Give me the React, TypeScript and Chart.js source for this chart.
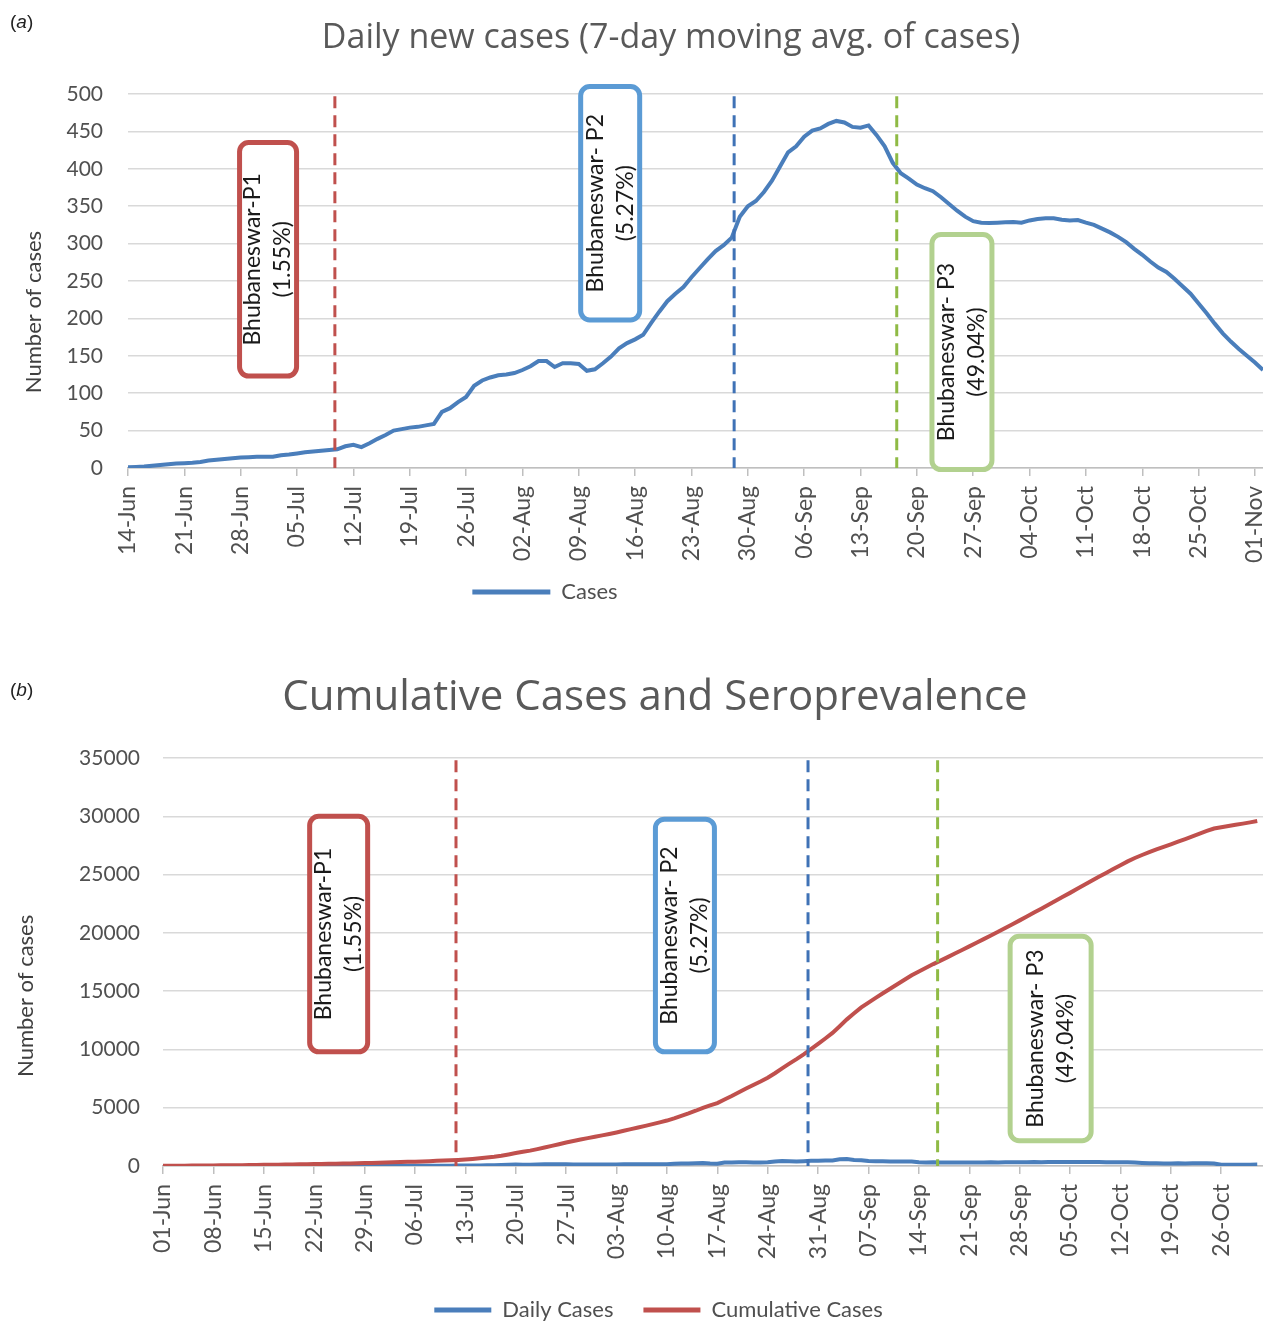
import React, { useEffect, useRef } from 'react';
import { Chart, registerables } from 'chart.js';

Chart.register(...registerables);

// ---------- DATA ----------
const TOP_START = Date.UTC(2020, 5, 14); // 14-Jun
const BOTTOM_START = Date.UTC(2020, 5, 1); // 01-Jun
const MONTHS = ['Jan', 'Feb', 'Mar', 'Apr', 'May', 'Jun', 'Jul', 'Aug', 'Sep', 'Oct', 'Nov', 'Dec'];

// 7-day moving average of daily new cases, one value per day from 14-Jun
const dailyAvgCases = [
  1, 1.5, 2, 3, 4, 5, 6, 6.5, 7, 8,
  10, 11, 12, 13, 14, 14.5, 15, 15, 15, 17,
  18, 19.5, 21, 22, 23, 24, 25, 29, 31, 28,
  33, 39, 44, 50, 52, 54, 55, 57, 59, 75,
  80, 88, 95, 110, 117, 121, 124, 125, 127, 131,
  136, 143, 143, 135, 140, 140, 139, 130, 132, 140,
  149, 160, 167, 172, 178, 194, 209, 223, 233, 242,
  255, 267, 279, 290, 298, 308, 336, 350, 357, 369,
  384, 403, 422, 430, 443, 451, 454, 460, 464, 462,
  456, 455, 458, 445, 430, 408, 394, 387, 379, 374,
  370, 362, 353, 344, 336, 330, 328, 327.5, 328, 328.5,
  329, 328, 331, 333, 334, 334, 332, 331, 331.5, 328,
  325, 320, 315, 309, 302, 293, 285, 276, 268, 262,
  253, 243, 233, 220, 207, 193, 180, 169, 159, 150,
  141, 131,
];

// cumulative cases, one value per day from 01-Jun
const cumulativeCases = [
  20, 23, 27, 31, 35, 40, 45, 50, 56, 62,
  68, 75, 82, 89, 97, 105, 113, 122, 131, 141,
  151, 162, 173, 185, 197, 210, 223, 237, 252, 267,
  283, 300, 318, 336, 355, 375, 396, 418, 441, 465,
  490, 525, 565, 610, 660, 720, 790, 880, 990, 1110,
  1220, 1320, 1450, 1590, 1730, 1870, 2020, 2150, 2270, 2390,
  2510, 2630, 2750, 2880, 3020, 3160, 3300, 3440, 3590, 3740,
  3900, 4090, 4300, 4510, 4740, 4990, 5200, 5400, 5700, 6000,
  6320, 6640, 6950, 7250, 7570, 7960, 8380, 8780, 9170, 9580,
  10020, 10470, 10940, 11420, 11990, 12580, 13100, 13600, 14020, 14420,
  14820, 15210, 15590, 15980, 16360, 16690, 17000, 17320, 17620, 17920,
  18230, 18530, 18840, 19150, 19460, 19780, 20090, 20420, 20740, 21070,
  21400, 21740, 22070, 22410, 22750, 23090, 23430, 23780, 24120, 24470,
  24810, 25140, 25470, 25800, 26130, 26420, 26680, 26920, 27160, 27380,
  27600, 27830, 28050, 28280, 28510, 28740, 28950, 29060, 29170, 29270,
  29370, 29480, 29600,
];

// daily cases, one value per day from 01-Jun
const dailyCases = [
  3, 4, 4, 4, 5, 5, 5, 6, 6, 6,
  7, 7, 7, 8, 8, 8, 8, 9, 9, 10,
  10, 11, 11, 12, 12, 13, 13, 14, 15, 15,
  16, 17, 18, 18, 19, 20, 21, 22, 23, 24,
  25, 35, 40, 45, 50, 60, 70, 90, 110, 120,
  110, 100, 130, 140, 140, 140, 150, 130, 120, 120,
  120, 120, 120, 130, 140, 140, 140, 140, 150, 150,
  160, 190, 210, 210, 230, 250, 210, 200, 300, 300,
  320, 320, 310, 300, 320, 390, 420, 400, 390, 410,
  440, 450, 470, 480, 570, 590, 520, 500, 420, 400,
  400, 390, 380, 390, 380, 330, 310, 320, 300, 300,
  310, 300, 310, 310, 310, 320, 310, 330, 320, 330,
  330, 340, 330, 340, 340, 340, 340, 350, 340, 350,
  340, 330, 330, 330, 330, 290, 260, 240, 240, 220,
  220, 230, 220, 230, 230, 230, 210, 110, 110, 100,
  100, 110, 120,
];

// serosurvey rounds
const surveyNames = ['Bhubaneswar-P1', 'Bhubaneswar- P2', 'Bhubaneswar- P3'];
const surveyPrevalence = ['(1.55%)', '(5.27%)', '(49.04%)'];
const topSurveyDays = [25.7, 75.3, 95.5];     // days after 14-Jun
const bottomSurveyDays = [40.7, 89.6, 107.6]; // days after 01-Jun

// ---------- STYLE / LAYOUT ----------
const BLUE = '#4a7ebb';
const RED = '#c0504d';
const MARKER_COLORS = ['#c0504d', '#3f72b6', '#8fba45'];
const BOX_COLORS = ['#c0504d', '#5b9bd5', '#b2d18f'];
const TICK_COLOR = '#505050';
const GRID_COLOR = '#d9d9d9';

const topBoxLayout = [
  { day: 17.4, top: 435, bottom: 123, width: 57 },
  { day: 59.9, top: 510, bottom: 198, width: 59 },
  { day: 103.6, top: 312, bottom: -2, width: 60 },
];
const bottomBoxLayout = [
  { day: 24.4, top: 30000, bottom: 9800, width: 58 },
  { day: 72.5, top: 29750, bottom: 9800, width: 59 },
  { day: 123.3, top: 19700, bottom: 2170, width: 81 },
];

function fmtDate(start: number, day: number) {
  const d = new Date(start + Math.round(day) * 86400000);
  const dd = String(d.getUTCDate()).padStart(2, '0');
  return dd + '-' + MONTHS[d.getUTCMonth()];
}

function annotationPlugin(markerDays: number[], markerTop: number, boxes: any[], yTitleX: number) {
  return {
    id: 'sero',
    afterDatasetsDraw(chart: any) {
      const { ctx, scales, chartArea } = chart;
      const x = scales.x;
      const y = scales.y;
      ctx.save();
      // dashed survey markers
      ctx.lineWidth = 3;
      ctx.setLineDash([12, 7]);
      markerDays.forEach((day, i) => {
        const px = x.getPixelForValue(day);
        ctx.strokeStyle = MARKER_COLORS[i];
        ctx.beginPath();
        ctx.moveTo(px, y.getPixelForValue(markerTop));
        ctx.lineTo(px, y.getPixelForValue(0));
        ctx.stroke();
      });
      ctx.setLineDash([]);
      // rounded callout boxes
      boxes.forEach((b, i) => {
        const cx = x.getPixelForValue(b.day);
        const t = y.getPixelForValue(b.top);
        const bt = y.getPixelForValue(b.bottom);
        ctx.beginPath();
        ctx.roundRect(cx - b.width / 2, t, b.width, bt - t, 9);
        ctx.fillStyle = '#ffffff';
        ctx.fill();
        ctx.lineWidth = 5;
        ctx.strokeStyle = BOX_COLORS[i];
        ctx.stroke();
        ctx.save();
        ctx.translate(cx, (t + bt) / 2);
        ctx.rotate(-Math.PI / 2);
        ctx.fillStyle = '#1a1a1a';
        ctx.font = '23px Lato';
        ctx.textAlign = 'center';
        ctx.textBaseline = 'middle';
        ctx.fillText(surveyNames[i], 0, -15);
        ctx.fillText(surveyPrevalence[i], 0, 15);
        ctx.restore();
      });
      // y-axis title
      ctx.save();
      ctx.translate(yTitleX, chartArea.top + (chartArea.bottom - chartArea.top) * 0.583);
      ctx.rotate(-Math.PI / 2);
      ctx.fillStyle = '#404040';
      ctx.font = '22px Lato';
      ctx.textAlign = 'center';
      ctx.textBaseline = 'middle';
      ctx.fillText('Number of cases', 0, 0);
      ctx.restore();
      ctx.restore();
    },
  };
}

// re-centres the legend and title blocks horizontally
function blockCenterPlugin(legendX: number, titleX: number) {
  return {
    id: 'blockCenter',
    afterLayout(chart: any) {
      const lg = chart.legend;
      if (lg) {
        lg.left = 0;
        lg.right = legendX * 2;
        lg.width = legendX * 2;
      }
      const tb = chart.titleBlock;
      if (tb) {
        tb.left = 0;
        tb.right = titleX * 2;
        tb.width = titleX * 2;
      }
    },
  };
}

const legendLabels = (boxWidth: number, padding: number) => ({
  boxWidth,
  boxHeight: 5,
  padding,
  color: TICK_COLOR,
  font: { family: 'Lato', size: 22 },
  generateLabels: (chart: any) =>
    chart.data.datasets.map((ds: any, i: number) => ({
      text: ds.label,
      fillStyle: ds.borderColor,
      strokeStyle: ds.borderColor,
      lineWidth: 0,
      hidden: false,
      datasetIndex: i,
      fontColor: TICK_COLOR,
    })),
});

function xScale(start: number, max: number, height: number) {
  return {
    type: 'linear',
    min: 0,
    max,
    afterFit: (s: any) => {
      s.height = height;
      s.paddingLeft = 0;
      s.paddingRight = 0;
    },
    ticks: {
      stepSize: 7,
      maxTicksLimit: 100,
      includeBounds: false,
      autoSkip: false,
      minRotation: 90,
      maxRotation: 90,
      padding: 10,
      color: TICK_COLOR,
      font: { family: 'Lato', size: 23 },
      callback: (v: any) => fmtDate(start, Number(v)),
    },
    grid: { drawOnChartArea: false, drawTicks: true, tickLength: 8, color: '#bfbfbf', lineWidth: 1.5 },
    border: { color: '#bfbfbf', width: 1.5 },
  };
}

function yScale(max: number, step: number, width: number, padding: number) {
  return {
    min: 0,
    max,
    afterFit: (s: any) => {
      s.width = width;
    },
    ticks: {
      stepSize: step,
      padding,
      color: TICK_COLOR,
      font: { family: 'Lato', size: 21 },
      callback: (v: any) => String(v),
    },
    grid: { color: GRID_COLOR, lineWidth: 1.5, drawTicks: false },
    border: { display: false },
  };
}

export default function App() {
  const topRef = useRef<HTMLCanvasElement>(null);
  const botRef = useRef<HTMLCanvasElement>(null);

  useEffect(() => {
    Chart.defaults.font.family = 'Lato';
    const top = new Chart(topRef.current as HTMLCanvasElement, {
      type: 'line',
      data: {
        datasets: [
          {
            label: 'Cases',
            data: dailyAvgCases.map((v, i) => ({ x: i, y: v })),
            borderColor: BLUE,
            backgroundColor: BLUE,
            borderWidth: 4,
            pointRadius: 0,
            tension: 0,
          },
        ],
      },
      options: {
        animation: false,
        responsive: true,
        maintainAspectRatio: false,
        layout: { padding: { top: 0, left: 0, right: 0, bottom: 27 } },
        scales: {
          x: xScale(TOP_START, 141, 103),
          y: yScale(500, 50, 128, 25),
        },
        plugins: {
          title: {
            display: true,
            text: 'Daily new cases (7-day moving avg. of cases)',
            color: '#595959',
            font: { family: 'Open Sans', size: 34, weight: 'normal' },
            padding: { top: 17.6, bottom: 35.6 },
          },
          legend: { display: true, position: 'bottom', labels: legendLabels(78, 10) },
          tooltip: { enabled: false },
        },
      } as any,
      plugins: [
        annotationPlugin(topSurveyDays, 497, topBoxLayout, 34),
        blockCenterPlugin(545, 671),
      ],
    } as any);

    const bottom = new Chart(botRef.current as HTMLCanvasElement, {
      type: 'line',
      data: {
        datasets: [
          {
            label: 'Daily Cases',
            data: dailyCases.map((v, i) => ({ x: i, y: v })),
            borderColor: BLUE,
            backgroundColor: BLUE,
            borderWidth: 4,
            pointRadius: 0,
            tension: 0,
            order: 2,
          },
          {
            label: 'Cumulative Cases',
            data: cumulativeCases.map((v, i) => ({ x: i, y: v })),
            borderColor: RED,
            backgroundColor: RED,
            borderWidth: 4,
            pointRadius: 0,
            tension: 0,
            order: 1,
          },
        ],
      },
      options: {
        animation: false,
        responsive: true,
        maintainAspectRatio: false,
        layout: { padding: { top: 0, left: 0, right: 0, bottom: -10 } },
        scales: {
          x: xScale(BOTTOM_START, 152.8, 103),
          y: yScale(35000, 5000, 163, 23),
        },
        plugins: {
          title: {
            display: true,
            text: 'Cumulative Cases and Seroprevalence',
            color: '#595959',
            font: { family: 'Open Sans', size: 42, weight: 'normal' },
            padding: { top: 32.8, bottom: 34.8 },
          },
          legend: { display: true, position: 'bottom', labels: legendLabels(57, 30) },
          tooltip: { enabled: false },
        },
      } as any,
      plugins: [
        annotationPlugin(bottomSurveyDays, 34800, bottomBoxLayout, 26),
        blockCenterPlugin(658.5, 655),
      ],
    } as any);

    return () => {
      top.destroy();
      bottom.destroy();
    };
  }, []);

  const panelLabel: React.CSSProperties = {
    position: 'absolute',
    left: 10,
    fontFamily: '"Liberation Sans", Arial, sans-serif',
    fontSize: 19,
    color: '#222',
    lineHeight: '22px',
  };

  return (
    <div
      style={{
        position: 'absolute',
        left: 0,
        top: 0,
        width: 1263,
        height: 1321,
        background: '#ffffff',
        overflow: 'hidden',
      }}
    >
      <div style={{ position: 'absolute', left: 0, top: 0, width: 1263, height: 640 }}>
        <canvas ref={topRef} />
      </div>
      <div style={{ position: 'absolute', left: 0, top: 640, width: 1263, height: 681 }}>
        <canvas ref={botRef} />
      </div>
      <span style={{ ...panelLabel, top: 11 }}>
        (<i>a</i>)
      </span>
      <span style={{ ...panelLabel, top: 679 }}>
        (<i>b</i>)
      </span>
    </div>
  );
}
